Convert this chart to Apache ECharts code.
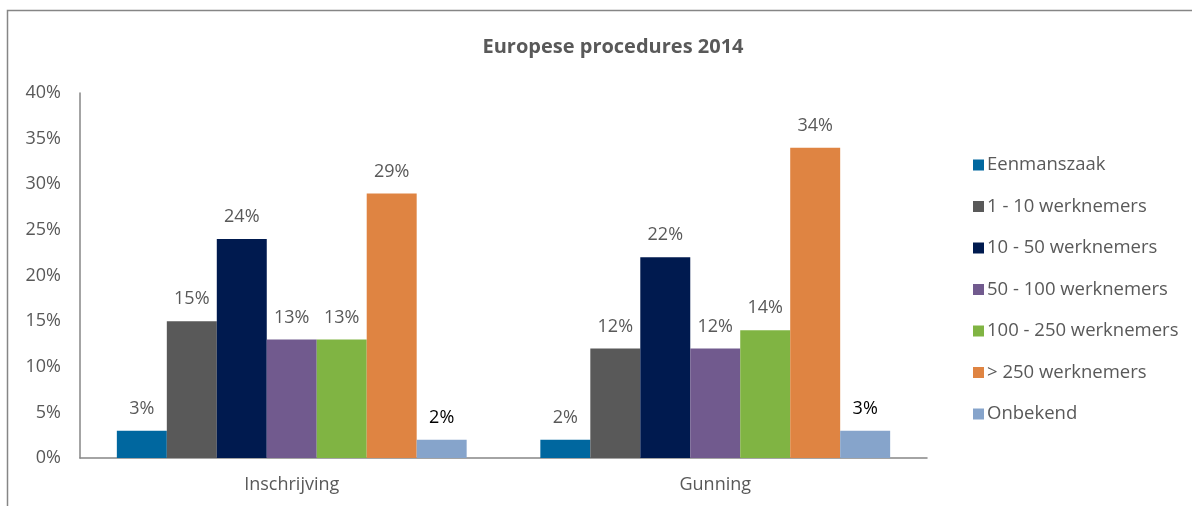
<!DOCTYPE html>
<html><head><meta charset="utf-8">
<script src="https://cdn.jsdelivr.net/npm/echarts@6/dist/echarts.min.js"></script>
<style>html,body{margin:0;padding:0;background:#fff}#c{width:1192px;height:506px}</style>
</head><body><div id="c"></div>
<script>
const categories = ['Inschrijving', 'Gunning'];
const seriesNames = ['Eenmanszaak', '1 - 10 werknemers', '10 - 50 werknemers', '50 - 100 werknemers', '100 - 250 werknemers', '> 250 werknemers', 'Onbekend'];
const eenmanszaak = [3, 2];
const w1_10 = [15, 12];
const w10_50 = [24, 22];
const w50_100 = [13, 12];
const w100_250 = [13, 14];
const w250plus = [29, 34];
const onbekend = [2, 3];
const yTicks = [0, 5, 10, 15, 20, 25, 30, 35, 40];

const values = [eenmanszaak, w1_10, w10_50, w50_100, w100_250, w250plus, onbekend];
const colors = ['#00679F', '#595959', '#001A4F', '#715A8E', '#80B443', '#DF8442', '#86A4CB'];
const labelColors = ['#595959', '#595959', '#595959', '#595959', '#595959', '#595959', '#000000'];
const FONT = '"Open Sans", sans-serif';

const chart = echarts.init(document.getElementById('c'));
chart.setOption({
  backgroundColor: '#fff',
  animation: false,
  textStyle: { fontFamily: FONT },
  graphic: [{
    type: 'rect', shape: { x: 7.5, y: 10.5, width: 1300, height: 600 },
    style: { fill: 'none', stroke: '#868686', lineWidth: 1.5 }, silent: true
  }],
  title: {
    text: 'Europese procedures 2014', left: 608, textAlign: 'center', top: 32,
    textStyle: { fontFamily: FONT, fontSize: 20, fontWeight: 'bold', color: '#595959' }
  },
  legend: {
    orient: 'vertical', left: 968, top: 150, itemWidth: 11, itemHeight: 11, itemGap: 21.5,
    icon: 'rect',
    textStyle: { fontFamily: FONT, fontSize: 18.5, color: '#595959', lineHeight: 20, padding: [0,0,0,-2] },
    data: seriesNames
  },
  grid: { left: 80, right: 265, top: 93, bottom: 48, containLabel: false },
  xAxis: {
    type: 'category', data: categories,
    axisLine: { lineStyle: { color: '#868686', width: 1.5 } },
    axisTick: { show: false },
    axisLabel: { fontFamily: FONT, fontSize: 18, color: '#595959', margin: 18 }
  },
  yAxis: {
    type: 'value', min: yTicks[0], max: yTicks[yTicks.length - 1], interval: 5,
    axisLine: { show: true, lineStyle: { color: '#868686', width: 1.5 } },
    axisTick: { show: false },
    splitLine: { show: false },
    axisLabel: { fontFamily: FONT, fontSize: 18, color: '#595959', margin: 19, formatter: v => v + '%' }
  },
  series: values.map((d, i) => ({
    name: seriesNames[i], type: 'bar', data: d,
    barGap: '0%', barCategoryGap: '17.4%',
    itemStyle: { color: colors[i] },
    label: { show: true, position: 'top', distance: 13, formatter: p => p.value + '%',
      fontFamily: FONT, fontSize: 18, color: labelColors[i] }
  }))
});
</script></body></html>
